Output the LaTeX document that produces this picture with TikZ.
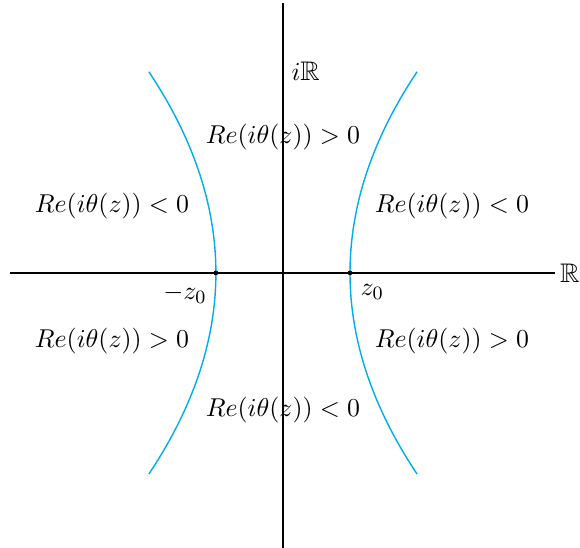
\documentclass[tikz,border=0pt]{standalone}
\usepackage{amsmath,amssymb}
\definecolor{hypcyan}{RGB}{0,174,239}
\tikzset{
    axis/.style={semithick},
    branch/.style={hypcyan, semithick, domain=-3:3, samples=60, variable=\t},
    region/.style={font=\fontsize{11.4}{14}\selectfont},
    vertex/.style={circle, fill=black, inner sep=0pt, minimum size=2pt}
}
\begin{document}
\begin{tikzpicture}
        \useasboundingbox (-4.22,-4.10) rectangle (4.43,4.07);
        % axes
        \coordinate (xl) at (-4.07,0);
        \coordinate (xr) at (4.06,0);
        \coordinate (yb) at (0,-4.15);
        \coordinate (yt) at (0,4.03);
        \draw[axis] (xl) -- (xr);
        \draw[axis] (yb) -- (yt);
        \node[region, anchor=east, inner sep=0pt] (re) at (4.43,0) {$\mathbb{R}$};
        \node[region] (im) at (0.34,3.0) {$i\mathbb{R}$};
        % branches
        \draw[branch] plot ({1+\t*\t/9},{\t});
        \draw[branch] plot ({-1-\t*\t/9},{\t});
        \node[vertex] (zr) at (1,0) {};
        \node[vertex] (zl) at (-1,0) {};
        \node[region] (zrl) at (1.33,-0.29) {$z_0$};
        \node[region] (zll) at (-1.46,-0.31) {$-z_0$};
        % signs
        \node[region] (top) at (0,2.03) {$Re(i\theta(z)) > 0$};
        \node[region] (bot) at (0,-2.04) {$Re(i\theta(z)) < 0$};
        \node[region] (ul) at (-2.55,1.0) {$Re(i\theta(z)) < 0$};
        \node[region] (ur) at (2.52,1.0) {$Re(i\theta(z)) < 0$};
        \node[region] (ll) at (-2.55,-1.01) {$Re(i\theta(z)) > 0$};
        \node[region] (lr) at (2.52,-1.01) {$Re(i\theta(z)) > 0$};
    \end{tikzpicture}
\end{document}
